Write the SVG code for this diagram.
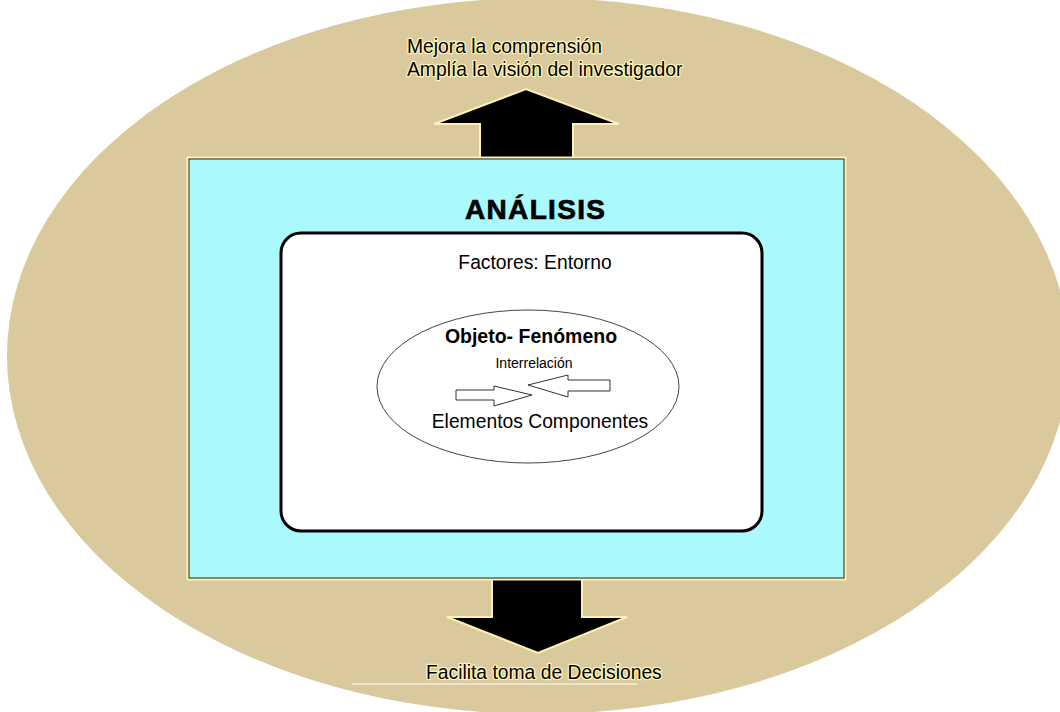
<svg xmlns="http://www.w3.org/2000/svg" width="1060" height="712" viewBox="0 0 1060 712">
  <style>
    .t { font-family: "Liberation Sans", Arial, sans-serif; fill: #000; }
    .glow { stroke: #fff4b8; stroke-width: 2.5; stroke-linejoin: round; paint-order: stroke; }
    .big { font-size: 19.3px; }
    .arrow { fill: #000; stroke: #fff2b0; stroke-width: 2; stroke-linejoin: miter; }
    .small-arrow { fill: #fff; stroke: #333; stroke-width: 1; }
  </style>

  <rect x="0" y="0" width="1060" height="712" fill="#fff"/>

  <!-- outer context ellipse -->
  <g id="context">
    <ellipse cx="538" cy="356" rx="531" ry="358" fill="#d9c99c"/>
  </g>

  <!-- connectors: block arrows leaving the analysis frame -->
  <g id="connectors">
    <polygon class="arrow" points="480,159 480,124 434,124 526,89 619,124 573,124 573,159"/>
    <polygon class="arrow" points="492,578 492,617 447,617 538,653 627,617 582,617 582,578"/>
    <line x1="352" y1="684" x2="638" y2="684" stroke="#fff" stroke-width="1"/>
  </g>

  <!-- analysis frame -->
  <g id="analisis">
    <rect x="188" y="158" width="657" height="421" fill="none" stroke="#fff2b0" stroke-width="3"/>
    <rect x="189" y="159" width="655" height="419" fill="#aaf9fc" stroke="#222" stroke-width="1"/>
    <text class="t" x="535" y="219" text-anchor="middle" font-size="28" font-weight="bold" stroke="#000" stroke-width="0.7" textLength="140" lengthAdjust="spacing">ANÁLISIS</text>
  </g>

  <!-- environment factors box -->
  <g id="entorno">
    <rect x="281" y="233" width="481" height="298" rx="20" ry="20" fill="#fff" stroke="#000" stroke-width="3"/>
    <text class="t big" x="535" y="269" text-anchor="middle">Factores: Entorno</text>
  </g>

  <!-- object / phenomenon -->
  <g id="objeto">
    <ellipse cx="528" cy="386.5" rx="151" ry="76.5" fill="#fff" stroke="#444" stroke-width="1"/>
    <text class="t" x="531" y="343" text-anchor="middle" font-size="19.5" font-weight="bold">Objeto- Fenómeno</text>
    <text class="t" x="534" y="368" text-anchor="middle" font-size="14">Interrelación</text>
    <polygon class="small-arrow" points="456,390 494,390 494,386 532,395 494,406 494,400 456,400"/>
    <polygon class="small-arrow" points="610,380 568,380 568,375 528,385 568,397 568,391 610,391"/>
    <text class="t big" x="540" y="428" text-anchor="middle">Elementos Componentes</text>
  </g>

  <!-- outcome labels -->
  <g id="mejora">
    <text class="t big glow" x="407" y="53">Mejora la comprensión</text>
    <text class="t big glow" x="407" y="76">Amplía la visión del investigador</text>
  </g>
  <g id="decisiones">
    <text class="t big glow" x="426" y="679">Facilita toma de Decisiones</text>
  </g>
</svg>
